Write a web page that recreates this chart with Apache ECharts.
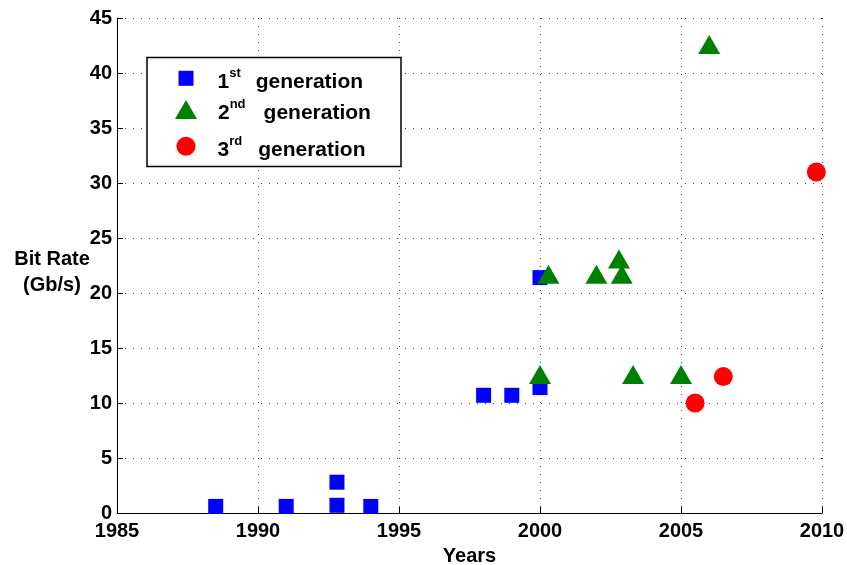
<!DOCTYPE html>
<html>
<head>
<meta charset="utf-8">
<script src="https://cdn.jsdelivr.net/npm/echarts@6/dist/echarts.min.js"></script>
<style>html,body{margin:0;padding:0;background:#fff;}#c{width:847px;height:565px;}</style>
</head>
<body>
<div id="c"></div>
<script>
// Data (year, bit rate in Gb/s)
var gen1 = [[1988.5,0.6],[1991,0.6],[1992.8,2.8],[1992.8,0.7],[1994,0.6],[1998,10.7],[1999,10.7],[2000,11.4],[2000,21.4]];
var gen2 = [[2000,12.6],[2000.3,21.7],[2002,21.7],[2002.9,21.7],[2002.8,23.1],[2003.3,12.6],[2005,12.6],[2006,42.6]];
var gen3 = [[2005.5,10.0],[2006.5,12.4],[2009.8,31.0]];
var seriesNames = ['1st generation','2nd generation','3rd generation'];
var xTicks = {min:1985, max:2010, interval:5};
var yTicks = {min:0, max:45, interval:5};

var FONT = "'Liberation Sans', Arial, Helvetica, sans-serif";
var chart = echarts.init(document.getElementById('c'), null, {renderer:'canvas'});

function legendRich(){
  return {
    n:{fontSize:21, fontWeight:'bold', fontFamily:FONT, color:'#000', lineHeight:31},
    s:{fontSize:13, fontWeight:'bold', fontFamily:FONT, color:'#000', lineHeight:13, verticalAlign:'top'},
    g1:{fontSize:21, fontWeight:'bold', fontFamily:FONT, color:'#000', lineHeight:31, padding:[0,0,0,15]},
    g2:{fontSize:21, fontWeight:'bold', fontFamily:FONT, color:'#000', lineHeight:31, padding:[0,0,0,18]},
    g3:{fontSize:21, fontWeight:'bold', fontFamily:FONT, color:'#000', lineHeight:31, padding:[0,0,0,16]},
    p1:{fontSize:21, lineHeight:31, width:19},
    p2:{fontSize:21, lineHeight:31, width:16},
    p3:{fontSize:21, lineHeight:31, width:17}
  };
}
function fmt(name){
  var i = seriesNames.indexOf(name)+1;
  var sup = ['st','nd','rd'][i-1];
  return '{p'+i+'|}{n|'+i+'}{s|'+sup+'}{g'+i+'|generation}';
}
function mkLegend(name, icon, w, h, cx, cy){
  return {
    data:[{name:name, icon:icon}],
    orient:'vertical',
    left: cx - w/2,
    top: cy - 11.5,
    padding:0,
    itemWidth:w, itemHeight:h,
    itemGap:0,
    selectedMode:false,
    z:6,
    formatter: fmt,
    textStyle:{rich: legendRich(), padding:[8,0,0,0]}
  };
}

var option = {
  animation:false,
  backgroundColor:'#fff',
  grid:{left:117, right:25, top:18, bottom:52, containLabel:false, outerBoundsMode:'none'},
  xAxis:{
    type:'value', min:xTicks.min, max:xTicks.max, interval:xTicks.interval,
    name:'Years', nameLocation:'middle', nameGap:33, nameMoveOverlap:false,
    nameTextStyle:{fontSize:20, fontWeight:'bold', fontFamily:FONT, color:'#000'},
    axisLine:{show:true, onZero:false, lineStyle:{color:'#000', width:1}},
    axisTick:{show:true, inside:true, length:6, lineStyle:{color:'#000'}},
    axisLabel:{fontSize:20, fontWeight:'bold', fontFamily:FONT, color:'#000', margin:8,
      formatter:function(v){return String(v);}},
    splitLine:{show:true, lineStyle:{color:'#444', type:[1,7], width:1}}
  },
  yAxis:{
    type:'value', min:yTicks.min, max:yTicks.max, interval:yTicks.interval,
    name:'{e| }\n{t|Bit Rate}\n{t|(Gb/s)}', nameLocation:'middle', nameRotate:0, nameGap:65, nameMoveOverlap:false,
    nameTextStyle:{fontSize:20, fontWeight:'bold', fontFamily:FONT, color:'#000', align:'center',
      rich:{
        e:{fontSize:10, lineHeight:14},
        t:{fontSize:20, fontWeight:'bold', fontFamily:FONT, color:'#000', lineHeight:26, align:'center'}
      }},
    axisLine:{show:true, onZero:false, lineStyle:{color:'#000', width:1}},
    axisTick:{show:true, inside:true, length:6, lineStyle:{color:'#000'}},
    axisLabel:{fontSize:20, fontWeight:'bold', fontFamily:FONT, color:'#000', margin:5,
      formatter:function(v){return String(v);}},
    splitLine:{show:true, lineStyle:{color:'#444', type:[1,7], width:1}}
  },
  graphic:[{
    type:'rect', z:5,
    shape:{x:147, y:57.5, width:254, height:109},
    style:{fill:'#fff', stroke:'#000', lineWidth:1.5}
  }],
  legend:[
    mkLegend(seriesNames[0], 'rect', 15, 15, 186, 78.3),
    mkLegend(seriesNames[1], 'triangle', 22, 19, 186, 109.5),
    mkLegend(seriesNames[2], 'circle', 19, 19, 186, 146.3)
  ],
  series:[
    {name:seriesNames[0], type:'scatter', data:gen1, symbol:'rect', symbolSize:15, itemStyle:{color:'#0000ff', opacity:1}},
    {name:seriesNames[1], type:'scatter', data:gen2, symbol:'triangle', symbolSize:[22,19], itemStyle:{color:'#008000', opacity:1}},
    {name:seriesNames[2], type:'scatter', data:gen3, symbol:'circle', symbolSize:19, itemStyle:{color:'#ff0000', opacity:1}}
  ]
};
chart.setOption(option);
</script>
</body>
</html>
